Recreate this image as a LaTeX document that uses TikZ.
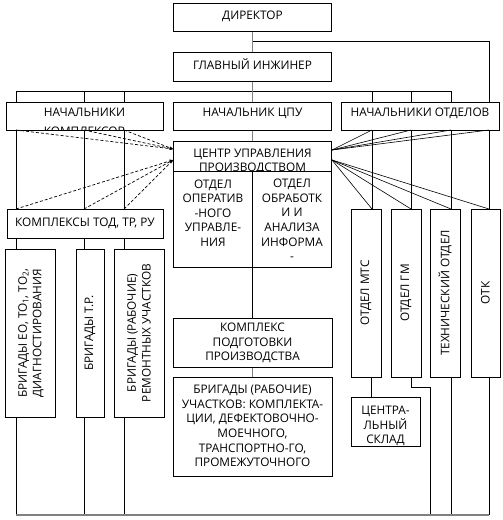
\documentclass[tikz,border=0pt]{standalone}
\usepackage{fontspec}
\setmainfont{Open Sans}
\usetikzlibrary{arrows.meta}
\pgfdeclarelayer{bg}
\pgfsetlayers{bg,main}
\begin{document}
\begin{tikzpicture}[x=1pt,y=-1pt,
  box/.style={draw, line width=0.8pt, fill=white, inner sep=0pt},
  txt/.style={inner sep=0pt, align=center, font=\fontsize{11.8}{14.6}\selectfont},
  ln/.style={line width=0.8pt},
  gln/.style={line width=1.6pt, black!50},
  dln/.style={line width=0.7pt, dash pattern=on 3pt off 2pt, -{Stealth[length=3.5pt,width=3pt]}}]
\useasboundingbox (0,0) rectangle (503,520);
% boxes
\node[box, minimum width=158, minimum height=28] (dir) at (252.5,17) {};
\node[txt] (dirt) at (252.5,16) {ДИРЕКТОР};
\node[box, minimum width=158, minimum height=29] (gi) at (252.5,66.5) {};
\node[txt] (git) at (252.5,64) {ГЛАВНЫЙ ИНЖИНЕР};
\node[box, minimum width=157, minimum height=28] (nk) at (84.5,116) {};
\begin{scope}
\clip (nk.south west) rectangle (nk.north east);
\node[txt] (nkt1) at (84.5,112.7) {НАЧАЛЬНИКИ};
\node[txt] (nkt2) at (84.5,131) {КОМПЛЕКСОВ};
\end{scope}
\node[box, minimum width=158, minimum height=28] (ncpu) at (252.5,116) {};
\node[txt] (ncput) at (252.5,113.5) {НАЧАЛЬНИК ЦПУ};
\node[box, minimum width=158, minimum height=28] (no) at (420,116) {};
\node[txt] (not) at (420,113.5) {НАЧАЛЬНИКИ ОТДЕЛОВ};
\node[box, minimum width=158, minimum height=126] (cup) at (252.5,204) {};
\coordinate (cupdl) at (173.5,171);
\coordinate (cupdr) at (331.5,171);
\coordinate (cupmid) at (252.5,171);
\begin{scope}
\clip (cup.north west) rectangle (cupdr);
\node[txt] (cupt) at (252.5,161.5) {ЦЕНТР УПРАВЛЕНИЯ\\ПРОИЗВОДСТВОМ};
\end{scope}
\draw[ln] (cupdl) -- (cupdr);
\draw[ln] (cupmid) -- (cup.south);
\node[txt] (oou) at (213,213) {ОТДЕЛ\\ОПЕРАТИВ\\-НОГО\\УПРАВЛЕ-\\НИЯ};
\node[txt] (ooa) at (292,220) {ОТДЕЛ\\ОБРАБОТК\\И И\\АНАЛИЗА\\ИНФОРМА\\-};
\node[box, minimum width=156, minimum height=29] (ktod) at (85,223.5) {};
\node[txt] (ktodt) at (85,223) {КОМПЛЕКСЫ ТОД, ТР, РУ};
\node[box, minimum width=50, minimum height=168] (b1) at (30,333) {};
\node[txt, rotate=90] (b1t) at (31,333) {БРИГАДЫ ЕО, ТО\textsubscript{1}, ТО\textsubscript{2},\\ДИАГНОСТИРОВАНИЯ};
\node[box, minimum width=28, minimum height=168] (b2) at (90,333) {};
\node[txt, rotate=90] (b2t) at (90,333) {БРИГАДЫ Т.Р.};
\node[box, minimum width=50, minimum height=168] (b3) at (139,333) {};
\node[txt, rotate=90] (b3t) at (139,333) {БРИГАДЫ (РАБОЧИЕ)\\РЕМОНТНЫХ УЧАСТКОВ};
\node[box, minimum width=159, minimum height=49] (kp) at (252.5,342.5) {};
\node[txt] (kpt) at (252.5,343) {КОМПЛЕКС\\ПОДГОТОВКИ\\ПРОИЗВОДСТВА};
\node[box, minimum width=159, minimum height=99] (br) at (252.5,426.5) {};
\node[txt] (brt) at (252.5,426) {БРИГАДЫ (РАБОЧИЕ)\\УЧАСТКОВ: КОМПЛЕКТА-\\ЦИИ, ДЕФЕКТОВОЧНО-\\МОЕЧНОГО,\\ТРАНСПОРТНО-ГО,\\ПРОМЕЖУТОЧНОГО};
\node[box, minimum width=30, minimum height=168] (mts) at (366,293) {};
\node[txt, rotate=90] (mtst) at (366,293) {ОТДЕЛ МТС};
\node[box, minimum width=30, minimum height=168] (gm) at (406,293) {};
\node[txt, rotate=90] (gmt) at (406,293) {ОТДЕЛ ГМ};
\node[box, minimum width=30, minimum height=168] (tech) at (445,293) {};
\node[txt, rotate=90] (techt) at (445,293) {ТЕХНИЧЕСКИЙ ОТДЕЛ};
\node[box, minimum width=29, minimum height=168] (otk) at (485.5,293) {};
\node[txt, rotate=90] (otkt) at (485.5,293) {ОТК};
\node[box, minimum width=69, minimum height=49] (sklad) at (385.5,421.5) {};
\node[txt] (skladt) at (385.5,426) {ЦЕНТРА-\\ЛЬНЫЙ\\СКЛАД};
% coordinates
\coordinate (t16) at (16,91); \coordinate (t84) at (84,91); \coordinate (t124) at (124,91);
\coordinate (t372) at (372,91); \coordinate (t411) at (411,91); \coordinate (t451) at (451,91);
\coordinate (b16) at (16,515); \coordinate (b84) at (84,515); \coordinate (b124) at (124,515);
\coordinate (b430) at (430,515); \coordinate (b451) at (451,515); \coordinate (b489) at (489,515);
\coordinate (d41) at (252.5,41); \coordinate (r41) at (489,41);
\coordinate (otktop) at (489,209); \coordinate (otkbot) at (489,377);
\coordinate (mtstop) at (372,209); \coordinate (gmtop) at (411,209); \coordinate (techtop) at (451,209);
\coordinate (mtsbot) at (371,377); \coordinate (gmbot) at (411,377); \coordinate (techbot) at (451,377);
\coordinate (gmk1) at (411,387); \coordinate (gmk2) at (430,387);
\coordinate (skladtop) at (371,397);
\coordinate (nkb16) at (16,130); \coordinate (nkb84) at (84,130); \coordinate (nkb124) at (124,130);
\coordinate (kt16) at (16,209); \coordinate (kt84) at (84,209); \coordinate (kt124) at (124,209);
\coordinate (nob372) at (372,130); \coordinate (nob411) at (411,130); \coordinate (nob451) at (451,130); \coordinate (nob489) at (489,130);
\coordinate (cupL1) at (173,149); \coordinate (cupL2) at (173,160);
\coordinate (cupR1) at (332,150); \coordinate (cupR2) at (332,160);
\begin{pgfonlayer}{bg}
\draw[ln] (t16) -- (t451);
\foreach \a/\b in {t16/b16, t84/b84, t124/b124, t372/mtstop, t411/gmtop, t451/techtop, otkbot/b489, techbot/b451}
  \draw[ln] (\a) -- (\b);
\draw[ln] (d41) -- (r41) -- (otktop);
\draw[ln] (mtsbot) -- (skladtop);
\draw[ln] (gmbot) -- (gmk1) -- (gmk2) -- (b430);
\draw[gln] (dir.south) -- (gi.north);
\draw[gln] (gi.south) -- (ncpu.north);
\draw[gln] (ncpu.south) -- (cup.north);
\draw[gln] (kp.south) -- (br.north);
\draw[ln] (cup.south) -- (kp.north);
\draw[gln] (b16) -- (b489);
\end{pgfonlayer}
% fans
\foreach \p in {nkb16, nkb84, nkb124} \draw[dln] (\p) -- (cupL1);
\foreach \p in {kt16, kt84, kt124} \draw[dln] (\p) -- (cupL2);
\foreach \p in {nob372, nob411, nob451, nob489} \draw[line width=0.6pt] (cupR1) -- (\p);
\foreach \p in {mtstop, gmtop, techtop, otktop} \draw[line width=0.6pt] (cupR2) -- (\p);
\end{tikzpicture}
\end{document}
